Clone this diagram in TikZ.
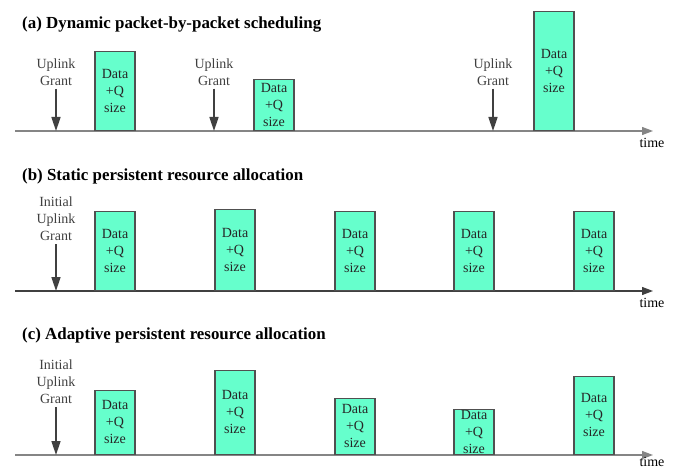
\documentclass[tikz,border=0pt]{standalone}
\usepackage{fontspec}
\setmainfont{Liberation Serif}
\usetikzlibrary{arrows.meta, positioning}
\definecolor{pktfill}{HTML}{66FFCC}
\definecolor{pktedge}{HTML}{505050}
\definecolor{grantgray}{HTML}{404040}
\definecolor{axisgray}{HTML}{858585}

\begin{document}
\begin{tikzpicture}[x=1pt, y=-1pt,
    title/.style={font=\fontsize{16.9}{18}\selectfont\bfseries, anchor=west, inner sep=0pt},
    pkt/.style={draw=pktedge, fill=pktfill, line width=1.1pt, minimum width=40pt, minimum height=#1, anchor=south, inner sep=0pt},
    pkttext/.style={font=\fontsize{14}{17}\selectfont, align=center, text=black!85, inner sep=0pt},
    grantlbl/.style={font=\fontsize{14}{17}\selectfont, align=center, text=grantgray, inner sep=0pt},
    grant/.style={-{Triangle[length=14pt, width=9pt]}, line width=1.6pt, grantgray, shorten <=3pt},
    axis/.style={-{Triangle[length=11pt, width=8pt]}, line width=1.2pt, #1},
    timelbl/.style={font=\fontsize{14}{16}\selectfont, inner sep=0pt}
]
\useasboundingbox (0,0) rectangle (676,470);

% (a) dynamic scheduling
\node[title] (ta) at (22,25) {(a) Dynamic packet-by-packet scheduling};
\coordinate (axa0) at (15,131);
\coordinate (axa1) at (653,131);
\draw[axis=axisgray] (axa0) -- (axa1);
\node[timelbl] (timea) at (652,143) {time};
\foreach \nm/\x in {ga1/56, ga2/214, ga3/493} {
  \node[grantlbl] (\nm) at (\x,72) {Uplink\\Grant};
  \coordinate (\nm-e) at (\x,131);
  \draw[grant] (\nm) -- (\nm-e);
}
\foreach \nm/\x/\h in {pa1/115/79, pa2/274/51, pa3/554/119} {
  \node[pkt=\h pt] (\nm) at (\x,131) {};
  \node[pkttext] (\nm-t) at (\nm.center) {Data\\+Q\\size};
}

% (b) static persistent allocation
\node[title] (tb) at (22,176) {(b) Static persistent resource allocation};
\coordinate (axb0) at (15,291);
\coordinate (axb1) at (653,291);
\draw[axis=grantgray] (axb0) -- (axb1);
\node[timelbl] (timeb) at (652,303) {time};
\node[grantlbl] (gb) at (56,219) {Initial\\Uplink\\Grant};
\coordinate (gb-e) at (56,291);
\draw[grant] (gb) -- (gb-e);
\foreach \nm/\x/\h in {pb1/115/79, pb2/235/81, pb3/355/79, pb4/474/79, pb5/594/79} {
  \node[pkt=\h pt] (\nm) at (\x,291) {};
  \node[pkttext] (\nm-t) at (\nm.center) {Data\\+Q\\size};
}

% (c) adaptive persistent allocation
\node[title] (tc) at (22,335) {(c) Adaptive persistent resource allocation};
\coordinate (axc0) at (15,455);
\coordinate (axc1) at (653,455);
\draw[axis=axisgray] (axc0) -- (axc1);
\node[timelbl] (timec) at (652,462) {time};
\node[grantlbl] (gc) at (56,382) {Initial\\Uplink\\Grant};
\coordinate (gc-e) at (56,455);
\draw[grant] (gc) -- (gc-e);
\foreach \nm/\x/\h in {pc1/115/64, pc2/235/84, pc3/355/56, pc4/474/45, pc5/594/78} {
  \node[pkt=\h pt] (\nm) at (\x,455) {};
  \node[pkttext] (\nm-t) at (\nm.center) {Data\\+Q\\size};
}
\end{tikzpicture}
\end{document}
